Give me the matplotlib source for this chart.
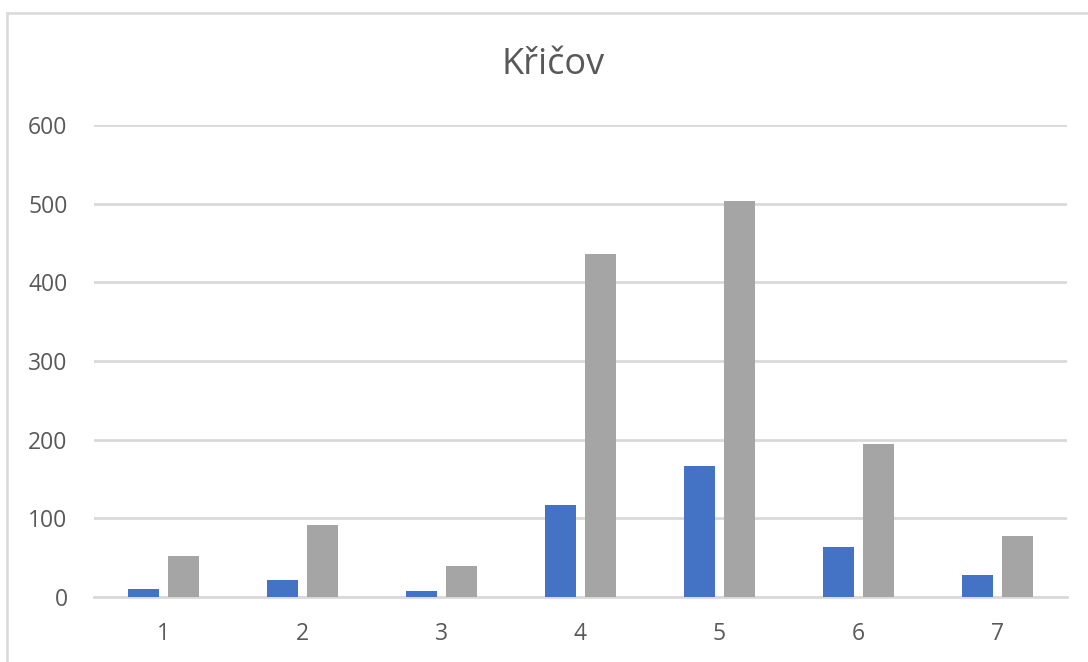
import matplotlib
matplotlib.use("Agg")
import matplotlib.pyplot as plt
from matplotlib.lines import Line2D
import numpy as np

plt.rcParams['font.family'] = ['Open Sans', 'DejaVu Sans']

title = "Křičov"
categories = ["1", "2", "3", "4", "5", "6", "7"]
series_blue = [10, 22, 7, 117, 167, 63, 28]
series_gray = [52, 91, 40, 436, 503, 195, 78]
yticks = [0, 100, 200, 300, 400, 500, 600]

W, H = 1088, 662
fig = plt.figure(figsize=(W / 100, H / 100), dpi=100)
fig.patch.set_facecolor("white")

left, right, bottom, top = 94, 1067, 597, 125
ax = fig.add_axes([left / W, 1 - bottom / H, (right - left) / W, (bottom - top) / H])

x = np.arange(len(categories))
bw = 0.223
off = 0.144
ax.bar(x - off, series_blue, bw, color="#4472C4", zorder=3)
ax.bar(x + off, series_gray, bw, color="#A5A5A5", zorder=3)

ax.set_xlim(-0.5, len(categories) - 0.5)
ax.set_ylim(0, 600)
ax.set_yticks(yticks)
ax.set_xticks(x)
ax.set_xticklabels(categories)
ax.yaxis.grid(True, color="#D9D9D9", linewidth=2.0, zorder=0)
ax.set_axisbelow(True)
for s in ["top", "right", "left"]:
    ax.spines[s].set_visible(False)
ax.spines["bottom"].set_color("#D9D9D9")
ax.spines["bottom"].set_linewidth(2.0)
ax.tick_params(axis="both", length=0, labelsize=16.5, labelcolor="#595959")
ax.tick_params(axis="y", pad=19)
ax.tick_params(axis="x", pad=18)

fig.text(553 / W, 1 - 65 / H, title, ha="center", va="center",
         fontsize=26, color="#595959")

# chart border (top and left edges visible)
fig.add_artist(Line2D([7 / W, 7 / W], [0, 1 - 13 / H], transform=fig.transFigure,
                      color="#D9D9D9", linewidth=1.8))
fig.add_artist(Line2D([7 / W, 1], [1 - 13 / H, 1 - 13 / H], transform=fig.transFigure,
                      color="#D9D9D9", linewidth=1.8))

fig.savefig("out.png", dpi=100, facecolor="white")
